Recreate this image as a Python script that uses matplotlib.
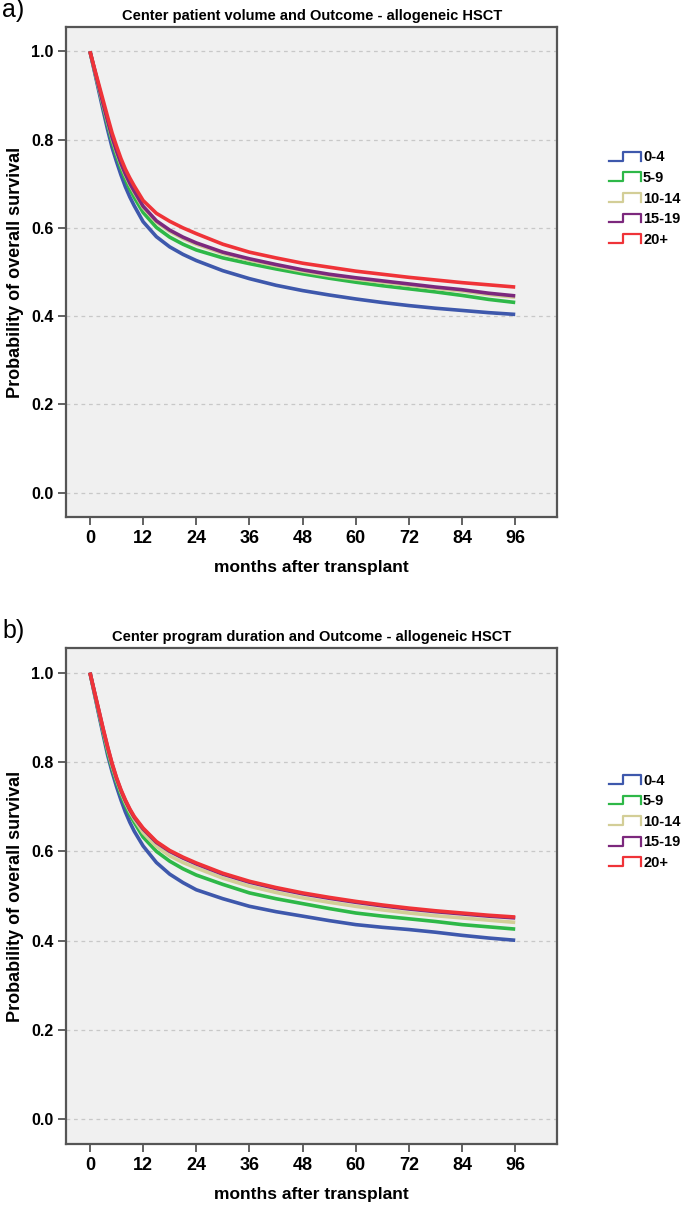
import matplotlib
matplotlib.use("Agg")
import matplotlib.pyplot as plt
from matplotlib.legend_handler import HandlerBase
from matplotlib.lines import Line2D

# survival curves (months after transplant)
months = [0, 1, 2, 3, 4, 5, 6, 7, 8, 9, 10, 12, 15, 18, 21, 24,
          30, 36, 42, 48, 54, 60, 66, 72, 78, 84, 90, 96]
groups = ["0-4", "5-9", "10-14", "15-19", "20+"]
colors = ["#3E58AC", "#2EB848", "#D3CE97", "#7C287D", "#EF3338"]

# a) center patient volume
vol_0_4 = [1, 0.955, 0.91, 0.865, 0.822, 0.782, 0.75, 0.72, 0.693, 0.67, 0.65, 0.614, 0.58, 0.557, 0.54, 0.526,
           0.503, 0.485, 0.47, 0.458, 0.448, 0.439, 0.431, 0.424, 0.418, 0.413, 0.408, 0.404]
vol_5_9 = [1, 0.958, 0.916, 0.874, 0.833, 0.795, 0.763, 0.735, 0.71, 0.688, 0.669, 0.635, 0.601, 0.579, 0.563, 0.55,
           0.532, 0.519, 0.507, 0.496, 0.486, 0.477, 0.469, 0.462, 0.455, 0.447, 0.438, 0.431]
vol_10_14 = [1, 0.959, 0.918, 0.877, 0.839, 0.802, 0.771, 0.743, 0.719, 0.698, 0.68, 0.646, 0.613, 0.592, 0.576, 0.563,
             0.542, 0.527, 0.514, 0.502, 0.492, 0.484, 0.477, 0.47, 0.463, 0.457, 0.449, 0.443]
vol_15_19 = [1, 0.96, 0.92, 0.88, 0.842, 0.805, 0.774, 0.746, 0.722, 0.701, 0.683, 0.649, 0.616, 0.595, 0.579, 0.566,
             0.545, 0.53, 0.517, 0.505, 0.495, 0.487, 0.48, 0.473, 0.466, 0.46, 0.452, 0.446]
vol_20 = [1, 0.962, 0.925, 0.888, 0.851, 0.815, 0.785, 0.757, 0.733, 0.713, 0.695, 0.662, 0.633, 0.615, 0.6, 0.587,
          0.563, 0.545, 0.532, 0.52, 0.511, 0.502, 0.495, 0.488, 0.482, 0.476, 0.471, 0.466]

# b) center program duration
dur_0_4 = [1, 0.953, 0.906, 0.86, 0.815, 0.778, 0.745, 0.715, 0.688, 0.665, 0.645, 0.612, 0.575, 0.549, 0.53, 0.514,
           0.494, 0.477, 0.465, 0.455, 0.445, 0.436, 0.43, 0.425, 0.419, 0.412, 0.406, 0.401]
dur_5_9 = [1, 0.955, 0.91, 0.866, 0.822, 0.786, 0.755, 0.727, 0.703, 0.682, 0.665, 0.632, 0.6, 0.578, 0.561, 0.547,
           0.526, 0.507, 0.494, 0.483, 0.472, 0.462, 0.455, 0.449, 0.443, 0.436, 0.431, 0.426]
dur_10_14 = [1, 0.956, 0.913, 0.87, 0.828, 0.791, 0.76, 0.733, 0.709, 0.689, 0.672, 0.642, 0.611, 0.59, 0.575, 0.563,
             0.54, 0.522, 0.508, 0.496, 0.486, 0.477, 0.469, 0.462, 0.456, 0.451, 0.446, 0.441]
dur_15_19 = [1, 0.957, 0.915, 0.872, 0.832, 0.795, 0.763, 0.736, 0.713, 0.693, 0.676, 0.65, 0.62, 0.6, 0.585, 0.572,
             0.549, 0.531, 0.517, 0.505, 0.495, 0.486, 0.478, 0.471, 0.465, 0.46, 0.455, 0.451]
dur_20 = [1, 0.958, 0.916, 0.874, 0.834, 0.797, 0.765, 0.738, 0.715, 0.695, 0.678, 0.652, 0.622, 0.602, 0.587, 0.574,
          0.551, 0.533, 0.519, 0.507, 0.497, 0.488, 0.48, 0.473, 0.467, 0.462, 0.457, 0.453]

panels = [
    ("a)", "Center patient volume and Outcome - allogeneic HSCT",
     [vol_0_4, vol_5_9, vol_10_14, vol_15_19, vol_20]),
    ("b)", "Center program duration and Outcome - allogeneic HSCT",
     [dur_0_4, dur_5_9, dur_10_14, dur_15_19, dur_20]),
]

FONT = ["Liberation Sans", "DejaVu Sans"]
FRAME = "#555555"


class StepHandler(HandlerBase):
    """legend key drawn as a small step like SPSS does"""
    def create_artists(self, legend, orig_handle, xdescent, ydescent,
                       width, height, fontsize, trans):
        xs = [0, 0.45, 0.45, 1.0, 1.0]
        ys = [0.1, 0.1, 0.9, 0.9, 0.1]
        line = Line2D([x * width - xdescent for x in xs],
                      [y * height - ydescent for y in ys],
                      color=orig_handle.get_color(), lw=1.6, transform=trans)
        return [line]


fig = plt.figure(figsize=(6.9, 12.12), dpi=100)
axes_rects = [[0.0957, 0.5734, 0.712, 0.4043],
              [0.0957, 0.0561, 0.712, 0.4092]]

for (tag, title, series), rect in zip(panels, axes_rects):
    ax = fig.add_axes(rect)
    ax.set_facecolor("#F0F0F0")
    handles = []
    for name, col, vals in zip(groups, colors, series):
        h, = ax.plot(months, vals, color=col, lw=2.6, solid_capstyle="butt")
        handles.append(h)

    ax.set_xlim(-5.4, 105.5)
    ax.set_ylim(-0.055, 1.055)
    ax.set_xticks(range(0, 97, 12))
    ax.set_yticks([0.0, 0.2, 0.4, 0.6, 0.8, 1.0])
    ax.set_yticklabels(["0.0", "0.2", "0.4", "0.6", "0.8", "1.0"])
    ax.grid(axis="y", color="#C8C8C8", ls=(0, (3, 3)), lw=0.9)
    ax.set_axisbelow(True)
    for sp in ax.spines.values():
        sp.set_color(FRAME)
        sp.set_linewidth(1.6)
    ax.tick_params(direction="out", length=6, width=1.3, color=FRAME, pad=3)
    for lab in ax.get_xticklabels():
        lab.set_fontfamily(FONT)
        lab.set_fontweight("bold")
        lab.set_fontsize(13)
    for lab in ax.get_yticklabels():
        lab.set_fontfamily(FONT)
        lab.set_fontweight("bold")
        lab.set_fontsize(11.5)

    ax.set_xlabel("months after transplant", family=FONT, weight="bold",
                  fontsize=12.5, labelpad=10)
    ax.set_ylabel("Probability of overall survival", family=FONT, weight="bold",
                  fontsize=13, labelpad=5)
    ax.set_title(title, family=FONT, weight="bold", fontsize=10.5, pad=5)

    ax.legend(handles, groups, loc="center left", bbox_to_anchor=(1.09, 0.65),
              frameon=False, handler_map={Line2D: StepHandler()},
              handlelength=2.2, handleheight=0.8, handletextpad=0.15,
              labelspacing=0.45, borderpad=0,
              prop={"family": FONT, "weight": "bold", "size": 10.5})

    fig.text(0.003, rect[1] + rect[3] + 0.004, tag, family=FONT, fontsize=18,
             va="bottom", ha="left")

fig.savefig("out.png", dpi=100)
